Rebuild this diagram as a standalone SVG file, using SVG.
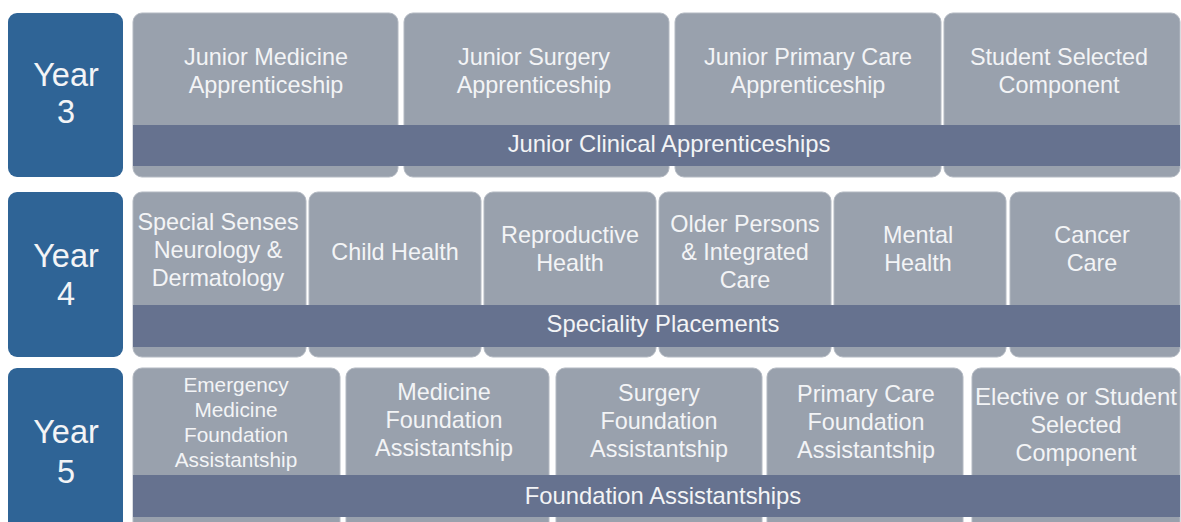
<svg xmlns="http://www.w3.org/2000/svg" width="1181" height="522" viewBox="0 0 1181 522">
<style>
.yr{fill:#2f6496}
.bx{fill:#99a1ad;stroke:#b3b9c2;stroke-width:1}
.bar{fill:#66728f}
text{font-family:"Liberation Sans",Arial,sans-serif;fill:#f3f4f6;text-anchor:middle}
.yt{font-size:32.5px}
.t{font-size:23.4px}
.ts{font-size:20.8px}
.bt{font-size:23.8px}
</style>
<rect width="1181" height="522" fill="#ffffff"/>

<!-- Year 3 -->
<g id="year3"><rect class="yr" x="8" y="13" width="115" height="164" rx="9"/><text class="yt" x="66" y="86">Year</text><text class="yt" x="66" y="123">3</text></g>
<g id="jm"><rect class="bx" x="133" y="13" width="265" height="164" rx="9"/><text class="t" x="266" y="65">Junior Medicine</text><text class="t" x="266" y="93">Apprenticeship</text></g>
<g id="js"><rect class="bx" x="404" y="13" width="265" height="164" rx="9"/><text class="t" x="534" y="65">Junior Surgery</text><text class="t" x="534" y="93">Apprenticeship</text></g>
<g id="jp"><rect class="bx" x="675" y="13" width="266" height="164" rx="9"/><text class="t" x="808" y="65">Junior Primary Care</text><text class="t" x="808" y="93">Apprenticeship</text></g>
<g id="ssc"><rect class="bx" x="944" y="13" width="236" height="164" rx="9"/><text class="t" x="1059" y="65">Student Selected</text><text class="t" x="1059" y="93">Component</text></g>
<g id="bar3"><rect class="bar" x="133" y="125" width="1047" height="41"/><text class="bt" x="669" y="152">Junior Clinical Apprenticeships</text></g>

<!-- Year 4 -->
<g id="year4"><rect class="yr" x="8" y="192" width="115" height="165" rx="9"/><text class="yt" x="66" y="267">Year</text><text class="yt" x="66" y="305">4</text></g>
<g id="ssn"><rect class="bx" x="133" y="192" width="173" height="165" rx="9"/><text class="t" x="218" y="230">Special Senses</text><text class="t" x="218" y="258">Neurology &amp;</text><text class="t" x="218" y="286">Dermatology</text></g>
<g id="ch"><rect class="bx" x="309" y="192" width="172" height="165" rx="9"/><text class="t" x="395" y="260">Child Health</text></g>
<g id="rh"><rect class="bx" x="484" y="192" width="172" height="165" rx="9"/><text class="t" x="570" y="243">Reproductive</text><text class="t" x="570" y="271">Health</text></g>
<g id="op"><rect class="bx" x="659" y="192" width="172" height="165" rx="9"/><text class="t" x="745" y="232">Older Persons</text><text class="t" x="745" y="260">&amp; Integrated</text><text class="t" x="745" y="288">Care</text></g>
<g id="mh"><rect class="bx" x="834" y="192" width="172" height="165" rx="9"/><text class="t" x="918" y="243">Mental</text><text class="t" x="918" y="271">Health</text></g>
<g id="cc"><rect class="bx" x="1010" y="192" width="170" height="165" rx="9"/><text class="t" x="1092" y="243">Cancer</text><text class="t" x="1092" y="271">Care</text></g>
<g id="bar4"><rect class="bar" x="133" y="305" width="1047" height="42"/><text class="bt" x="663" y="332">Speciality Placements</text></g>

<!-- Year 5 -->
<g id="year5"><rect class="yr" x="8" y="368" width="115" height="170" rx="9"/><text class="yt" x="66" y="443">Year</text><text class="yt" x="66" y="483">5</text></g>
<g id="em"><rect class="bx" x="133" y="368" width="207" height="170" rx="9"/><text class="ts" x="236" y="392">Emergency</text><text class="ts" x="236" y="417">Medicine</text><text class="ts" x="236" y="442">Foundation</text><text class="ts" x="236" y="467">Assistantship</text></g>
<g id="mf"><rect class="bx" x="346" y="368" width="203" height="170" rx="9"/><text class="t" x="444" y="400">Medicine</text><text class="t" x="444" y="428">Foundation</text><text class="t" x="444" y="456">Assistantship</text></g>
<g id="sf"><rect class="bx" x="556" y="368" width="206" height="170" rx="9"/><text class="t" x="659" y="401">Surgery</text><text class="t" x="659" y="429">Foundation</text><text class="t" x="659" y="457">Assistantship</text></g>
<g id="pf"><rect class="bx" x="767" y="368" width="196" height="170" rx="9"/><text class="t" x="866" y="402">Primary Care</text><text class="t" x="866" y="430">Foundation</text><text class="t" x="866" y="458">Assistantship</text></g>
<g id="el"><rect class="bx" x="972" y="368" width="208" height="170" rx="9"/><text class="t" x="1076" y="405" textLength="202" lengthAdjust="spacingAndGlyphs">Elective or Student</text><text class="t" x="1076" y="433">Selected</text><text class="t" x="1076" y="461">Component</text></g>
<g id="bar5"><rect class="bar" x="133" y="475" width="1047" height="42"/><text class="bt" x="663" y="504">Foundation Assistantships</text></g>

<g id="connectors"></g>
</svg>
